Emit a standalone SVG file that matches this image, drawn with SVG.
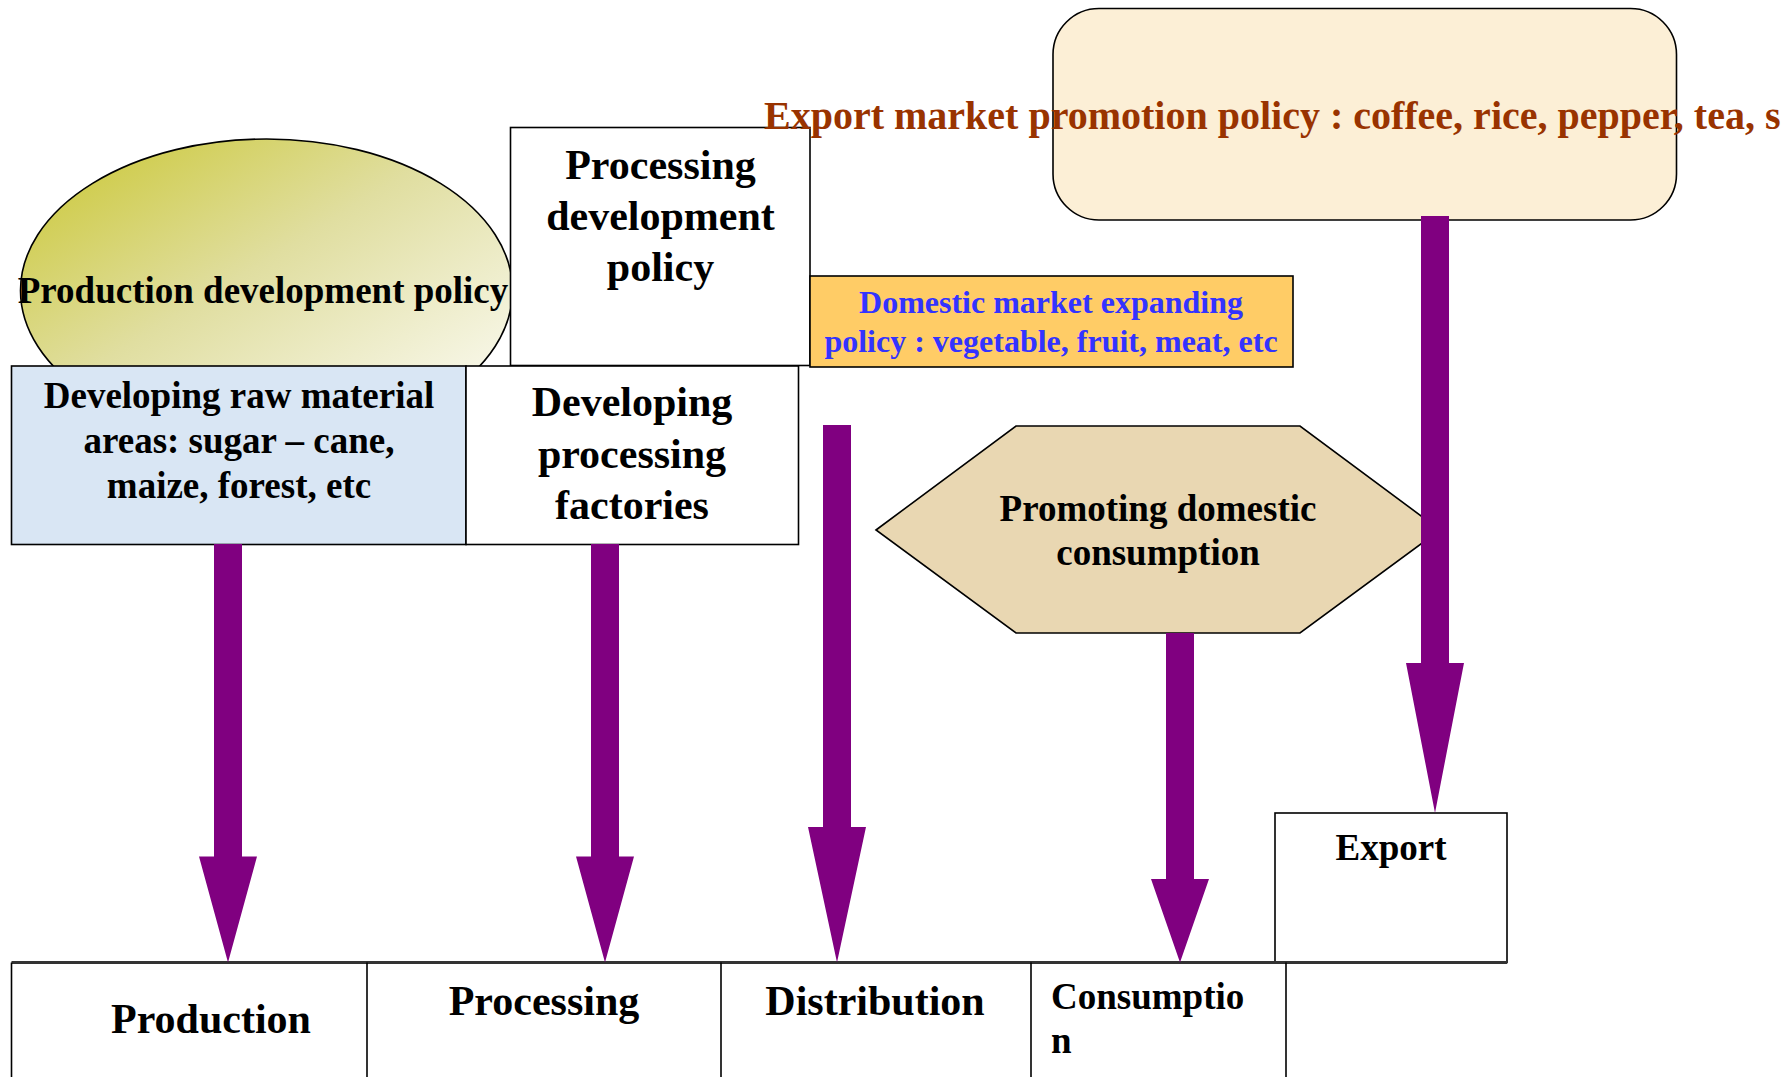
<svg xmlns="http://www.w3.org/2000/svg" width="1786" height="1077" viewBox="0 0 1786 1077">
<style>
.t{font-family:"Liberation Serif","Times New Roman",serif;font-weight:bold;fill:#000;text-anchor:middle}
.box{stroke:#000;stroke-width:1.6}
.arrow{fill:#800080}
</style>
<defs>
<linearGradient id="ellg" x1="0" y1="0" x2="1" y2="1">
<stop offset="0" stop-color="#c9c62e"/>
<stop offset="0.45" stop-color="#e0dea0"/>
<stop offset="1" stop-color="#ffffff"/>
</linearGradient>
</defs>
<rect width="1786" height="1077" fill="#fff"/>

<g id="production-policy">
<ellipse cx="266.5" cy="290.5" rx="246" ry="151.5" fill="url(#ellg)" class="box"/>
<text class="t" x="263" y="303" font-size="37">Production development policy</text>
</g>

<g id="processing-policy">
<rect x="510.5" y="127.5" width="299.5" height="238" fill="#fff" class="box"/>
<text class="t" x="660.5" y="179" font-size="42">Processing</text>
<text class="t" x="660.5" y="230" font-size="42">development</text>
<text class="t" x="660.5" y="281" font-size="42">policy</text>
</g>

<g id="domestic-policy">
<rect x="810" y="276" width="483" height="91" fill="#ffcc66" class="box" stroke-width="2"/>
<text class="t" x="1051" y="313" font-size="32" fill="#3333ff" style="fill:#3333ff">Domestic market expanding</text>
<text class="t" x="1051" y="352" font-size="32" style="fill:#3333ff">policy : vegetable, fruit, meat, etc</text>
</g>

<g id="raw-material">
<rect x="11.5" y="366" width="454.5" height="178.5" fill="#d9e6f4" class="box"/>
<text class="t" x="239" y="408" font-size="37">Developing raw material</text>
<text class="t" x="239" y="453" font-size="37">areas: sugar – cane,</text>
<text class="t" x="239" y="498" font-size="37">maize, forest, etc</text>
</g>

<g id="processing-factories">
<rect x="466" y="366" width="332.5" height="178.5" fill="#fff" class="box"/>
<text class="t" x="632" y="416" font-size="42">Developing</text>
<text class="t" x="632" y="468" font-size="42">processing</text>
<text class="t" x="632" y="519" font-size="42">factories</text>
</g>

<g id="export-policy">
<rect x="1053" y="8.5" width="623.5" height="211.5" rx="46" ry="46" fill="#fcefd6" class="box" stroke-width="2"/>
<text x="764" y="129" font-size="40" font-family="'Liberation Serif','Times New Roman',serif" font-weight="bold" fill="#993300">Export market promotion policy : coffee, rice, pepper, tea, s</text>
</g>

<g id="promoting-consumption">
<polygon points="876,530 1016,426 1300,426 1440,530 1300,633 1016,633" fill="#e9d7b2" class="box"/>
<text class="t" x="1158" y="521" font-size="37">Promoting domestic</text>
<text class="t" x="1158" y="565" font-size="37">consumption</text>
</g>

<g id="export-box">
<rect x="1275" y="813" width="232" height="149.5" fill="#fff" class="box"/>
<text class="t" x="1391" y="860" font-size="37">Export</text>
</g>

<g id="value-chain">
<line x1="11.5" y1="962.5" x2="1507" y2="962.5" stroke="#333" stroke-width="3"/>
<line x1="11.5" y1="962.5" x2="11.5" y2="1077" stroke="#000" stroke-width="1.6"/>
<line x1="367" y1="962.5" x2="367" y2="1077" stroke="#000" stroke-width="1.6"/>
<line x1="721" y1="962.5" x2="721" y2="1077" stroke="#000" stroke-width="1.6"/>
<line x1="1031" y1="962.5" x2="1031" y2="1077" stroke="#000" stroke-width="1.6"/>
<line x1="1286" y1="962.5" x2="1286" y2="1077" stroke="#000" stroke-width="1.6"/>
</g>
<g id="production"><text class="t" x="211" y="1033" font-size="42">Production</text></g>
<g id="processing"><text class="t" x="544" y="1015" font-size="42">Processing</text></g>
<g id="distribution"><text class="t" x="875" y="1015" font-size="42">Distribution</text></g>
<g id="consumption">
<text x="1051" y="1009" font-size="37" font-family="'Liberation Serif','Times New Roman',serif" font-weight="bold">Consumptio</text>
<text x="1051" y="1053" font-size="37" font-family="'Liberation Serif','Times New Roman',serif" font-weight="bold">n</text>
</g>

<g id="connectors">
<path class="arrow" d="M214,544 H242 V856.5 H257 L228,962.5 L199,856.5 H214 Z"/>
<path class="arrow" d="M591,544 H619 V856.5 H634 L605,962.5 L576,856.5 H591 Z"/>
<path class="arrow" d="M823,425 H851 V827 H866 L837,962.5 L808,827 H823 Z"/>
<path class="arrow" d="M1166,633 H1194 V879 H1209 L1180,962.5 L1151,879 H1166 Z"/>
<path class="arrow" d="M1421,216 H1449 V663 H1464 L1435,813 L1406,663 H1421 Z"/>
</g>
</svg>
